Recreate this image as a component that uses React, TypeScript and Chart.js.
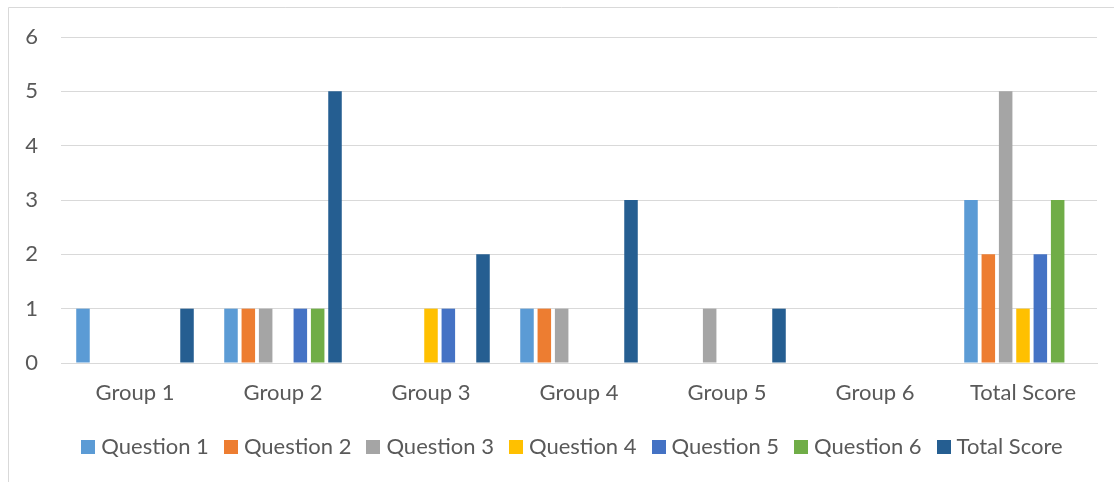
import React, { useEffect, useRef } from 'react';
import { Chart, registerables } from 'chart.js';

Chart.register(...registerables);

const categories = ['Group 1', 'Group 2', 'Group 3', 'Group 4', 'Group 5', 'Group 6', 'Total Score'];
const seriesNames = ['Question 1', 'Question 2', 'Question 3', 'Question 4', 'Question 5', 'Question 6', 'Total Score'];
const question1 = [1, 1, 0, 1, 0, 0, 3];
const question2 = [0, 1, 0, 1, 0, 0, 2];
const question3 = [0, 1, 0, 1, 1, 0, 5];
const question4 = [0, 0, 1, 0, 0, 0, 1];
const question5 = [0, 1, 1, 0, 0, 0, 2];
const question6 = [0, 1, 0, 0, 0, 0, 3];
const totalScore = [1, 5, 2, 3, 1, 0, 0];
const seriesColors = ['#5B9BD5', '#ED7D31', '#A5A5A5', '#FFC000', '#4472C4', '#70AD47', '#255E91'];
const yMin = 0;
const yMax = 6;
const yStep = 1;

const FONT_FAMILY = 'Lato, "Open Sans", sans-serif';
const FONT_SIZE = 22;
const TEXT_COLOR = '#595959';
const GRID_COLOR = '#d9d9d9';

const framePlugin = {
  id: 'frameAndLegend',
  beforeDraw(chart: any) {
    const ctx = chart.ctx;
    ctx.save();
    ctx.fillStyle = '#ffffff';
    ctx.fillRect(0, 0, chart.width, chart.height);
    ctx.restore();
  },
  afterDraw(chart: any) {
    const ctx = chart.ctx;
    ctx.save();
    // outer frame (top + left visible)
    ctx.strokeStyle = GRID_COLOR;
    ctx.lineWidth = 1;
    ctx.beginPath();
    ctx.moveTo(8.5, chart.height + 2);
    ctx.lineTo(8.5, 7.5);
    ctx.lineTo(chart.width + 2, 7.5);
    ctx.stroke();

    // legend
    ctx.font = `${FONT_SIZE}px ${FONT_FAMILY}`;
    const box = 14;
    const gapText = 6;
    const gapItem = 15;
    const items = chart.data.datasets.map((d: any) => ({
      label: d.label as string,
      color: d.backgroundColor as string,
      w: ctx.measureText(d.label).width,
    }));
    const total =
      items.reduce((s: number, it: any) => s + box + gapText + it.w, 0) + gapItem * (items.length - 1);
    let x = 572 - total / 2;
    const boxTop = 440;
    const baseline = 454;
    ctx.textBaseline = 'alphabetic';
    ctx.textAlign = 'left';
    items.forEach((it: any) => {
      ctx.fillStyle = it.color;
      ctx.fillRect(Math.round(x), boxTop, box, box);
      x += box + gapText;
      ctx.fillStyle = TEXT_COLOR;
      ctx.fillText(it.label, x, baseline);
      x += it.w + gapItem;
    });
    ctx.restore();
  },
};

export default function App() {
  const canvasRef = useRef<HTMLCanvasElement | null>(null);

  useEffect(() => {
    if (!canvasRef.current) return;
    const seriesValues = [question1, question2, question3, question4, question5, question6, totalScore];
    const chart = new Chart(canvasRef.current, {
      type: 'bar',
      data: {
        labels: categories,
        datasets: seriesNames.map((name, i) => ({
          label: name,
          data: seriesValues[i],
          backgroundColor: seriesColors[i],
          borderWidth: 0,
          categoryPercentage: 0.82,
          barPercentage: 0.78,
        })),
      },
      options: {
        responsive: false,
        animation: false,
        devicePixelRatio: 1,
        layout: { padding: { top: 37, right: 17, left: 0, bottom: 0 } },
        plugins: {
          legend: { display: false },
          tooltip: { enabled: false },
          title: { display: false },
        },
        scales: {
          x: {
            grid: { display: false, drawTicks: false },
            border: { display: true, color: GRID_COLOR, width: 1 },
            ticks: {
              color: TEXT_COLOR,
              font: { family: FONT_FAMILY, size: FONT_SIZE },
              padding: 17,
              maxRotation: 0,
              autoSkip: false,
            },
            afterFit: (scale: any) => {
              scale.height = 119;
            },
          },
          y: {
            min: yMin,
            max: yMax,
            grid: { color: GRID_COLOR, lineWidth: 1, drawTicks: false },
            border: { display: false },
            ticks: {
              stepSize: yStep,
              color: TEXT_COLOR,
              font: { family: FONT_FAMILY, size: FONT_SIZE },
              padding: 23,
            },
            afterFit: (scale: any) => {
              scale.width = 61;
            },
          },
        },
      },
      plugins: [framePlugin],
    });
    return () => chart.destroy();
  }, []);

  return (
    <div style={{ position: 'absolute', left: 0, top: 0, width: 1114, height: 482, background: '#fff', overflow: 'hidden' }}>
      <canvas ref={canvasRef} width={1114} height={482} style={{ display: 'block', width: 1114, height: 482 }} />
    </div>
  );
}
